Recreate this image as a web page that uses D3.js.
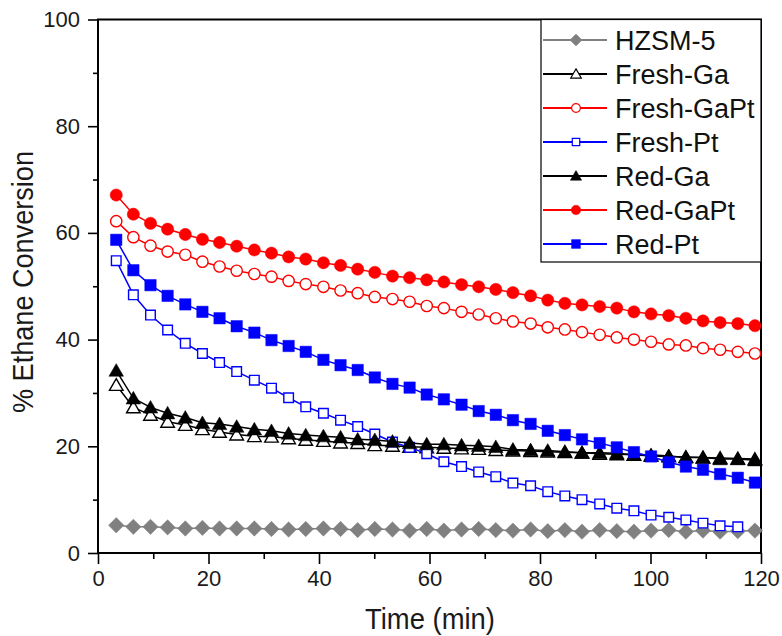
<!DOCTYPE html>
<html><head><meta charset="utf-8">
<script src="https://cdn.jsdelivr.net/npm/d3@7/dist/d3.min.js"></script>
<style>html,body{margin:0;padding:0;background:#fff;}svg{display:block;}</style>
</head><body><svg id="c" width="782" height="636"></svg>
<script>
const times = [3.3, 6.4, 9.5, 12.6, 15.8, 18.9, 22.0, 25.1, 28.3, 31.4, 34.5, 37.6, 40.8, 43.9, 47.0, 50.1, 53.3, 56.4, 59.5, 62.6, 65.8, 68.9, 72.0, 75.1, 78.3, 81.4, 84.5, 87.6, 90.8, 93.9, 97.0, 100.1, 103.3, 106.4, 109.5, 112.6, 115.8, 118.9];
const hzsm5 = [5.2, 4.9, 4.9, 4.8, 4.6, 4.7, 4.6, 4.6, 4.6, 4.5, 4.4, 4.5, 4.6, 4.5, 4.3, 4.5, 4.4, 4.2, 4.5, 4.2, 4.4, 4.5, 4.3, 4.2, 4.4, 4.1, 4.3, 4.0, 4.3, 4.1, 4.0, 4.2, 4.3, 4.0, 4.2, 4.0, 4.1, 4.2];
const freshGa = [31.5, 27.3, 25.9, 24.6, 24.0, 23.2, 22.7, 22.2, 21.9, 21.8, 21.5, 21.2, 21.0, 20.7, 20.6, 20.2, 20.1, 19.9, 19.8, 19.7, 19.6, 19.5, 19.3, 19.2, 19.1, 19.0, 18.9, 18.8, 18.6, 18.5, 18.4, 18.2, 18.1, 18.0, 17.9, 17.8, 17.7, 17.6];
const freshGaPt = [62.2, 59.2, 57.6, 56.5, 55.9, 54.6, 53.7, 52.9, 52.3, 51.8, 51.0, 50.4, 49.9, 49.2, 48.7, 48.0, 47.6, 47.1, 46.3, 45.9, 45.2, 44.7, 44.0, 43.4, 43.0, 42.3, 41.9, 41.4, 40.9, 40.4, 40.0, 39.6, 39.1, 38.9, 38.4, 38.1, 37.7, 37.4];
const freshPt = [54.8, 48.4, 44.6, 41.8, 39.3, 37.4, 35.7, 34.0, 32.4, 30.9, 29.1, 27.4, 26.2, 24.9, 23.7, 22.3, 20.8, 19.8, 18.6, 17.1, 16.2, 15.2, 14.3, 13.1, 12.6, 11.5, 10.7, 10.0, 9.2, 8.4, 7.9, 7.1, 6.7, 6.2, 5.6, 5.1, 4.9];
const redGa = [34.2, 29.0, 27.3, 26.2, 25.4, 24.4, 24.2, 23.7, 23.2, 22.9, 22.4, 22.1, 21.9, 21.7, 21.3, 21.2, 20.9, 20.6, 20.4, 20.4, 20.2, 20.1, 19.9, 19.4, 19.3, 19.2, 19.0, 18.8, 18.8, 18.7, 18.4, 18.4, 18.2, 17.9, 17.9, 17.6, 17.6, 17.4];
const redGaPt = [67.1, 63.5, 61.8, 60.7, 59.7, 58.8, 58.2, 57.5, 56.8, 56.2, 55.5, 55.1, 54.4, 53.9, 53.2, 52.6, 51.9, 51.6, 51.2, 50.8, 50.3, 49.9, 49.4, 48.8, 48.2, 47.4, 46.8, 46.5, 46.2, 45.9, 45.2, 44.8, 44.5, 44.0, 43.5, 43.2, 43.0, 42.6];
const redPt = [58.7, 53.0, 50.2, 48.2, 46.6, 45.2, 44.0, 42.5, 41.3, 39.9, 38.8, 37.7, 36.2, 35.2, 34.3, 32.9, 31.7, 31.0, 29.7, 28.8, 27.8, 26.6, 25.9, 24.9, 24.2, 22.9, 22.1, 21.3, 20.6, 19.8, 18.9, 18.1, 17.0, 16.2, 15.6, 14.8, 14.1, 13.2];
const xTicks = [0, 20, 40, 60, 80, 100, 120];
const yTicks = [0, 20, 40, 60, 80, 100];
const seriesNames = ["HZSM-5", "Fresh-Ga", "Fresh-GaPt", "Fresh-Pt", "Red-Ga", "Red-GaPt", "Red-Pt"];

const series = [
  {name: seriesNames[0], values: hzsm5, color: "#808080", shape: "diamond", filled: true},
  {name: seriesNames[1], values: freshGa, color: "#000000", shape: "triangle", filled: false},
  {name: seriesNames[2], values: freshGaPt, color: "#ff0000", shape: "circle", filled: false},
  {name: seriesNames[3], values: freshPt, color: "#0000ff", shape: "square", filled: false},
  {name: seriesNames[4], values: redGa, color: "#000000", shape: "triangle", filled: true},
  {name: seriesNames[5], values: redGaPt, color: "#ff0000", shape: "circle", filled: true},
  {name: seriesNames[6], values: redPt, color: "#0000ff", shape: "square", filled: true}
];

const svg = d3.select("#c");
const L = 98, R = 761, T = 19.5, B = 553;
const x = d3.scaleLinear().domain([0, 120]).range([L, R]);
const y = d3.scaleLinear().domain([0, 100]).range([B, T]);
const font = "Liberation Sans, Arial, sans-serif";

// axes
const xAxis = svg.append("g").attr("transform", `translate(0,${B})`)
  .call(d3.axisBottom(x).tickValues(xTicks).tickSize(11).tickPadding(6));
const yAxis = svg.append("g").attr("transform", `translate(${L},0)`)
  .call(d3.axisLeft(y).tickValues(yTicks).tickSize(10).tickPadding(8));
[xAxis, yAxis].forEach(g => {
  g.select(".domain").remove();
  g.selectAll(".tick line").attr("stroke", "#000").attr("stroke-width", 1.6);
  g.selectAll(".tick text").attr("font-family", font).attr("font-size", 22).attr("fill", "#1a1a1a");
});
// minor ticks
svg.append("g").attr("transform", `translate(0,${B})`)
  .call(d3.axisBottom(x).tickValues(d3.range(10, 120, 20)).tickSize(6).tickFormat(""))
  .call(g => { g.select(".domain").remove(); g.selectAll("line").attr("stroke-width", 1.6); });
svg.append("g").attr("transform", `translate(${L},0)`)
  .call(d3.axisLeft(y).tickValues(d3.range(10, 100, 20)).tickSize(5).tickFormat(""))
  .call(g => { g.select(".domain").remove(); g.selectAll("line").attr("stroke-width", 1.6); });

// frame
svg.append("rect").attr("x", L).attr("y", T).attr("width", R - L).attr("height", B - T)
  .attr("fill", "none").attr("stroke", "#000").attr("stroke-width", 2);

// titles
svg.append("text").attr("x", 430).attr("y", 629).attr("text-anchor", "middle")
  .attr("font-family", font).attr("font-size", 30).attr("textLength", 130)
  .attr("lengthAdjust", "spacingAndGlyphs").attr("fill", "#1a1a1a").text("Time (min)");
svg.append("text").attr("transform", "translate(33,282) rotate(-90)").attr("text-anchor", "middle")
  .attr("font-family", font).attr("font-size", 30).attr("textLength", 262)
  .attr("lengthAdjust", "spacingAndGlyphs").attr("fill", "#1a1a1a").text("% Ethane Conversion");

function sym(shape, size) {
  const m = {diamond: d3.symbolSquare, triangle: d3.symbolTriangle, circle: d3.symbolCircle, square: d3.symbolSquare}[shape];
  return d3.symbol().type(m).size(size)();
}
const rot = s => s === "diamond" ? " rotate(45)" : "";
const sizes = {diamond: 118, triangle: 92, circle: 118, square: 130};
const openSizes = {diamond: 118, triangle: 80, circle: 100, square: 92};

const plot = svg.append("g");
const line = d3.line().x(d => x(d[0])).y(d => y(d[1]));
series.forEach(s => {
  const pts = s.values.map((v, i) => [times[i], v]);
  const g = plot.append("g");
  g.append("path").datum(pts).attr("d", line).attr("fill", "none")
    .attr("stroke", s.color).attr("stroke-width", 1.5);
  g.selectAll("path.m").data(pts).enter().append("path").attr("class", "m")
    .attr("transform", d => `translate(${x(d[0])},${y(d[1]) + (s.shape === "triangle" ? 1.5 : 0)})${rot(s.shape)}`)
    .attr("d", sym(s.shape, s.filled ? sizes[s.shape] : openSizes[s.shape]))
    .attr("fill", s.filled ? s.color : "#fff")
    .attr("stroke", s.color).attr("stroke-width", s.filled ? 0.5 : 1.4);
});

// legend
const lg = svg.append("g");
lg.append("rect").attr("x", 541).attr("y", T).attr("width", R - 541).attr("height", 262 - T)
  .attr("fill", "#fff").attr("stroke", "#000").attr("stroke-width", 1.2);
series.forEach((s, i) => {
  const cy = 40 + i * 34;
  lg.append("line").attr("x1", 543).attr("x2", 607).attr("y1", cy).attr("y2", cy)
    .attr("stroke", s.color).attr("stroke-width", 2);
  lg.append("path").attr("transform", `translate(576,${cy + (s.shape === "triangle" ? 1 : 0)})${rot(s.shape)}`)
    .attr("d", sym(s.shape, s.filled ? sizes[s.shape] * 0.6 : openSizes[s.shape] * 0.6))
    .attr("fill", s.filled ? s.color : "#fff").attr("stroke", s.color).attr("stroke-width", s.filled ? 0.5 : 1.2);
  lg.append("text").attr("x", 615).attr("y", cy + 9.5).attr("font-family", font).attr("font-size", 27)
    .attr("fill", "#111").text(s.name);
});
</script></body></html>
